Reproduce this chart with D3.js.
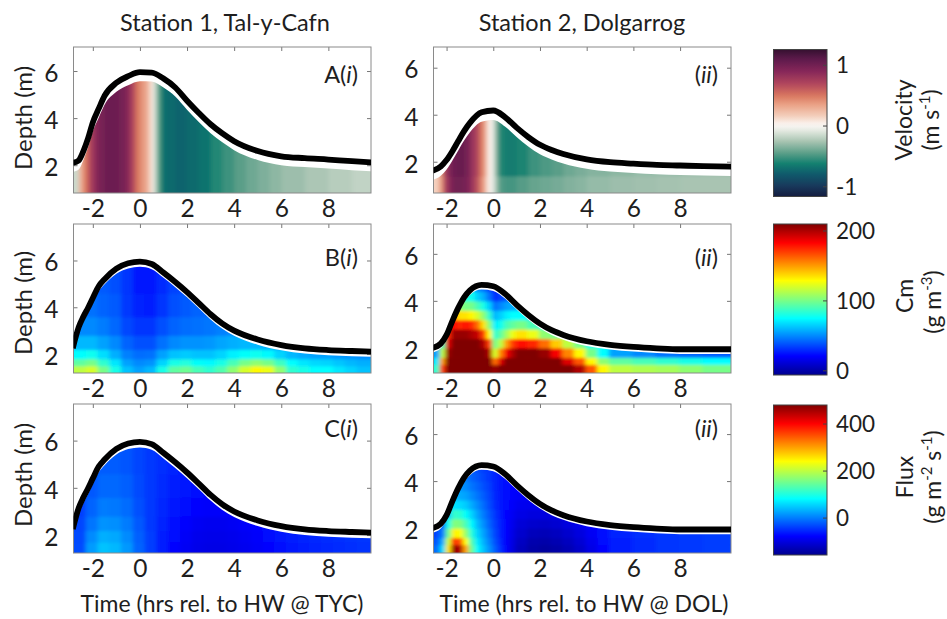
<!DOCTYPE html>
<html>
<head>
<meta charset="utf-8">
<script src="https://cdn.jsdelivr.net/npm/d3@7"></script>
<style>
  body { margin: 0; background: #fff; }
  text { font-family: Lato, "Open Sans", sans-serif; fill: #1e1e1e; }
</style>
</head>
<body>
<svg id="fig" width="947" height="619"></svg>
<script>
const N = null;

// ---- ticks ----
const X_TICKS = [-2, 0, 2, 4, 6, 8];
const Y_TICKS = [2, 4, 6];
const VEL_TICKS = [-1, 0, 1];
const CM_TICKS = [0, 100, 200];
const FLUX_TICKS = [0, 200, 400];

// colour limits (colorbar ranges)
const VEL_DOM = [-1.16, 1.26];
const CM_DOM = [-6, 210];
const FLUX_DOM = [-157, 481];

// ---- water surface (m) ----
const st1Time = [-2.85, -2.6, -2.4, -2.2, -2.0, -1.75, -1.5, -1.0, -0.5, 0, 0.5, 1.0, 1.5, 2.0, 2.5, 3.0, 3.5, 4.0, 5.0, 6.0, 7.0, 8.0, 9.0, 9.85];
const s1ASurf = [2.1, 2.2, 2.6, 3.15, 3.82, 4.4, 4.95, 5.5, 5.78, 5.95, 5.93, 5.68, 5.3, 4.74, 4.22, 3.74, 3.35, 3.02, 2.6, 2.38, 2.3, 2.24, 2.17, 2.12];
const s1BCSurf = [2.25, 3.15, 3.6, 3.98, 4.4, 4.9, 5.2, 5.65, 5.88, 5.95, 5.85, 5.48, 5.08, 4.65, 4.18, 3.7, 3.3, 3.0, 2.62, 2.38, 2.24, 2.17, 2.13, 2.1];

const st2Time = [-2.6, -2.25, -2.0, -1.75, -1.5, -1.25, -1.0, -0.5, 0, 0.5, 1.0, 1.5, 2.0, 2.5, 3.0, 4.0, 5.0, 6.0, 7.0, 8.0, 9.0, 10.25];
const s2ASurf = [1.62, 1.8, 2.07, 2.45, 2.88, 3.3, 3.65, 4.1, 4.18, 3.9, 3.45, 3.05, 2.72, 2.5, 2.33, 2.1, 1.98, 1.92, 1.87, 1.84, 1.81, 1.79];
const s2BCSurf = [2.0, 2.18, 2.55, 3.15, 3.7, 4.15, 4.45, 4.68, 4.62, 4.3, 3.83, 3.4, 3.03, 2.75, 2.55, 2.28, 2.13, 2.04, 1.98, 1.94, 1.94, 1.94];

// ---- velocity (m/s), bins in time (edges) x depth (edges) ----
const vel1Edges = [-2.85, -2.6, -2.4, -2.2, -2.0, -1.8, -1.5, -1.2, -0.9, -0.6, -0.4, -0.2, 0, 0.2, 0.4, 0.55, 0.7, 0.85, 1.0, 1.5, 2.0, 2.5, 3.0, 3.5, 4.0, 4.5, 5.0, 5.5, 6.0, 7.0, 8.0, 9.0, 9.85];
const vel1Depth = [0.82, 7.02];
const vel1 = [
  [-0.15, 0.3, 0.5, 0.7, 0.85, 0.97, 1.03, 1.03, 0.98, 0.88, 0.7, 0.5, 0.4, 0.3, 0.1, -0.12, -0.4, -0.6, -0.72, -0.75, -0.72, -0.68, -0.58, -0.52, -0.45, -0.4, -0.36, -0.32, -0.28, -0.24, -0.21, -0.18]
];

const vel2Edges = [-2.6, -2.35, -2.15, -1.95, -1.75, -1.5, -1.25, -1.0, -0.8, -0.6, -0.45, -0.3, -0.15, 0, 0.15, 0.3, 0.5, 0.75, 1.0, 1.5, 2.0, 2.5, 3.0, 3.5, 4.0, 5.0, 6.0, 7.0, 8.0, 9.0, 10.25];
const vel2Depth = [0.67, 1.4, 6.88];
const vel2 = [
  [0.15, 0.35, 0.7, 0.9, 1.0, 1.0, 0.95, 0.8, 0.65, 0.45, 0.32, 0.08, -0.02, -0.18, -0.4, -0.48, -0.5, -0.5, -0.46, -0.42, -0.4, -0.38, -0.35, -0.33, -0.3, -0.28, -0.27, -0.26, -0.25, -0.25],
  [0.15, 0.4, 0.75, 0.95, 1.03, 1.05, 0.98, 0.82, 0.7, 0.5, 0.38, 0.1, 0.0, -0.22, -0.5, -0.6, -0.64, -0.64, -0.6, -0.52, -0.48, -0.45, -0.4, -0.37, -0.34, -0.32, -0.3, -0.29, -0.28, -0.27]
];

// ---- SSC and flux grids ----
const jet1Edges = [-2.85, -2.3, -1.8, -1.3, -0.8, -0.3, 0.2, 0.7, 1.2, 1.7, 2.2, 2.7, 3.2, 3.7, 4.2, 4.7, 5.2, 5.7, 6.2, 6.7, 7.2, 7.7, 8.2, 8.7, 9.2, 9.85];
const jet2Edges = [-2.6, -2.3, -2.05, -1.8, -1.55, -1.3, -1.05, -0.8, -0.55, -0.3, -0.05, 0.2, 0.45, 0.7, 0.95, 1.45, 1.95, 2.45, 2.95, 3.45, 3.95, 4.45, 4.95, 5.95, 6.95, 7.95, 8.95, 10.25];

const cm1Depth = [1.19, 1.5, 1.8, 2.2, 2.8, 3.6, 4.6, 7.6];
const cm1 = [
  [115, 120, 100, 80, 62, 55, 60, 80, 95, 98, 90, 85, 92, 105, 120, 130, 125, 105, 85, 80, 75, 75, 70, 66, 62],
  [95, 100, 85, 70, 55, 50, 52, 66, 80, 82, 76, 74, 80, 90, 100, 105, 100, 88, 75, 70, 67, 66, 63, 60, 58],
  [75, 78, 68, 58, 48, 44, 45, 55, 62, 64, 62, 62, 66, 72, 76, 78, 74, 66, 60, 57, 55, 55, 53, 52, 50],
  [60, 60, 55, 50, 42, 38, 38, 45, 50, 52, 52, 53, 56, 58, 60, 60, 58, 55, N, N, N, N, N, N, N],
  [50, 50, 47, 43, 36, 32, 32, 38, 42, 44, 45, 46, 48, 50, N, N, N, N, N, N, N, N, N, N, N],
  [N, 45, 42, 40, 33, 28, 27, 32, 38, 40, 42, 43, N, N, N, N, N, N, N, N, N, N, N, N, N],
  [N, N, 40, 38, 32, 26, 25, 30, 35, 38, N, N, N, N, N, N, N, N, N, N, N, N, N, N, N]
];

const cm2Depth = [0.93, 1.3, 1.6, 2.0, 2.4, 2.8, 3.2, 3.6, 4.0, 4.4, 7.3];
const cm2 = [
  [85, 170, 210, 210, 210, 210, 210, 210, 210, 210, 205, 210, 210, 210, 210, 210, 210, 210, 210, 200, 165, 130, 115, 112, 110, 105, 100],
  [70, 150, 210, 210, 210, 210, 210, 210, 210, 210, 160, 190, 210, 210, 210, 210, 210, 210, 190, 165, 130, 105, 95, 90, 85, 80, 75],
  [55, 115, 205, 210, 210, 210, 210, 210, 210, 200, 120, 155, 185, 200, 210, 210, 205, 185, 155, 130, 100, 75, 55, 50, 45, 42, 40],
  [N, 90, 190, 210, 210, 210, 210, 210, 200, 170, 100, 115, 150, 170, 180, 175, 160, 140, 115, 100, 78, N, N, N, N, N, N],
  [N, N, 175, 205, 205, 205, 200, 195, 170, 130, 85, 95, 110, 125, 135, 125, 105, 100, N, N, N, N, N, N, N, N, N],
  [N, N, N, 180, 175, 180, 175, 160, 135, 105, 72, 78, 90, 95, 100, 90, 80, N, N, N, N, N, N, N, N, N, N],
  [N, N, N, 150, 135, 135, 130, 120, 105, 85, 60, 65, 72, 75, 75, 70, N, N, N, N, N, N, N, N, N, N, N],
  [N, N, N, N, 105, 100, 100, 90, 80, 65, 45, 50, 55, 58, 60, N, N, N, N, N, N, N, N, N, N, N, N],
  [N, N, N, N, N, 80, 78, 65, 58, 45, 30, 35, 40, N, N, N, N, N, N, N, N, N, N, N, N, N, N],
  [N, N, N, N, N, N, N, 50, 45, 35, 25, 30, N, N, N, N, N, N, N, N, N, N, N, N, N, N, N]
];

const fx1Depth = [1.24, 1.7, 2.2, 2.8, 3.6, 4.6, 7.6];
const fx1 = [
  [-30, 20, 45, 38, 18, -15, -40, -60, -75, -85, -92, -95, -95, -92, -88, -82, -75, -68, -62, -58, -55, -52, -50, -48, -46],
  [-32, 10, 32, 28, 10, -18, -40, -58, -72, -82, -90, -92, -92, -90, -85, -80, -72, -65, -60, -55, -52, -50, -48, -46, -45],
  [-35, -5, 15, 12, 0, -22, -42, -55, -68, -78, -85, -88, -88, -85, -80, -76, -68, -62, N, N, N, N, N, N, N],
  [-38, -15, 0, -2, -10, -28, -42, -52, -62, -72, -78, -80, -80, -78, N, N, N, N, N, N, N, N, N, N, N],
  [N, -22, -12, -12, -18, -32, -42, -50, -58, -65, -70, -75, N, N, N, N, N, N, N, N, N, N, N, N, N],
  [N, N, -20, -20, -25, -35, -42, -48, -55, -62, N, N, N, N, N, N, N, N, N, N, N, N, N, N, N]
];

const fx2Depth = [0.94, 1.3, 1.6, 2.0, 2.4, 2.8, 3.2, 3.6, 4.0, 4.4, 7.3];
const fx2 = [
  [-10, 60, 260, 470, 450, 300, 150, 80, 45, 15, -20, -50, -80, -100, -125, -140, -145, -140, -130, -115, -95, -75, -60, -50, -45, -42, -40],
  [-25, 30, 210, 370, 350, 240, 130, 70, 35, 5, -28, -55, -80, -98, -120, -135, -138, -132, -122, -108, -90, -72, -58, -50, -45, -42, -40],
  [-35, 0, 150, 250, 240, 175, 105, 55, 25, -5, -35, -58, -78, -95, -112, -125, -128, -122, -112, -100, -85, -68, -55, -48, -45, -42, -40],
  [N, -20, 95, 165, 160, 125, 80, 40, 12, -15, -40, -60, -76, -90, -105, -112, -115, -110, -100, -90, -78, N, N, N, N, N, N],
  [N, N, 50, 115, 110, 85, 55, 25, 0, -22, -45, -62, -74, -85, -95, -100, -100, -98, N, N, N, N, N, N, N, N, N],
  [N, N, N, 65, 60, 50, 30, 10, -10, -30, -50, -64, -72, -80, -88, -90, -92, N, N, N, N, N, N, N, N, N, N],
  [N, N, N, 35, 30, 25, 10, -5, -20, -35, -52, -65, -70, -78, -82, -85, N, N, N, N, N, N, N, N, N, N, N],
  [N, N, N, N, 15, 10, -5, -15, -28, -40, -55, -65, -70, -75, -78, N, N, N, N, N, N, N, N, N, N, N, N],
  [N, N, N, N, N, 0, -15, -25, -35, -45, -55, -65, -70, N, N, N, N, N, N, N, N, N, N, N, N, N, N],
  [N, N, N, N, N, N, N, -30, -40, -45, -55, -65, N, N, N, N, N, N, N, N, N, N, N, N, N, N, N]
];

// ---- colour maps ----
const velStops = [[-1.16, "#141c40"], [-0.98, "#183a5c"], [-0.78, "#0f5c6c"], [-0.62, "#12806f"], [-0.45, "#5a9e88"],
  [-0.25, "#a9c4b2"], [-0.08, "#e3e9e0"], [0.02, "#fbf7f5"], [0.16, "#f4d0bd"], [0.35, "#eaa287"], [0.5, "#d9775f"],
  [0.7, "#b0455d"], [0.9, "#862759"], [1.1, "#5e1a4c"], [1.26, "#34102f"]];
const velColor = d3.scaleLinear().domain(velStops.map(s => s[0])).range(velStops.map(s => s[1])).clamp(true);

const jet = d3.scaleLinear()
  .domain([0, 0.125, 0.375, 0.625, 0.875, 1])
  .range(["#00008f", "#0000ff", "#00ffff", "#ffff00", "#ff0000", "#800000"])
  .clamp(true);
const cmNorm = d3.scaleLinear().domain(CM_DOM).range([0, 1]);
const fluxNorm = d3.scaleLinear().domain(FLUX_DOM).range([0, 1]);
const cmColor = v => jet(cmNorm(v));
const fluxColor = v => jet(fluxNorm(v));

// ---- layout ----
const ROWS = {
  A: {y0: 47, y1: 193, tagY: 83, labY: 118},
  B: {y0: 224, y1: 373, tagY: 266, labY: 303},
  C: {y0: 404, y1: 553, tagY: 437, labY: 475}
};
const COLS = {
  1: {x0: 73.5, x1: 371, tDom: [-2.82, 9.81], tagX: 358},
  2: {x0: 433.5, x1: 731, tDom: [-2.56, 10.18], tagX: 718}
};

const panels = [
  {id: "A1", row: "A", col: 1, dDom: [0.82, 7.02], surfT: st1Time, surf: s1ASurf, gap: 0.38, tE: vel1Edges, dE: vel1Depth, vals: vel1, color: velColor, tag: ["A(", "i", ")"]},
  {id: "A2", row: "A", col: 2, dDom: [0.67, 6.88], surfT: st2Time, surf: s2ASurf, gap: 0.4, tE: vel2Edges, dE: vel2Depth, vals: vel2, color: velColor, tag: ["(", "ii", ")"]},
  {id: "B1", row: "B", col: 1, dDom: [1.19, 7.56], surfT: st1Time, surf: s1BCSurf, gap: 0.22, tE: jet1Edges, dE: cm1Depth, vals: cm1, color: cmColor, tag: ["B(", "i", ")"]},
  {id: "B2", row: "B", col: 2, dDom: [0.93, 7.27], surfT: st2Time, surf: s2BCSurf, gap: 0.2, tE: jet2Edges, dE: cm2Depth, vals: cm2, color: cmColor, tag: ["(", "ii", ")"]},
  {id: "C1", row: "C", col: 1, dDom: [1.24, 7.55], surfT: st1Time, surf: s1BCSurf, gap: 0.24, tE: jet1Edges, dE: fx1Depth, vals: fx1, color: fluxColor, tag: ["C(", "i", ")"]},
  {id: "C2", row: "C", col: 2, dDom: [0.94, 7.28], surfT: st2Time, surf: s2BCSurf, gap: 0.2, tE: jet2Edges, dE: fx2Depth, vals: fx2, color: fluxColor, tag: ["(", "ii", ")"]}
];

const svg = d3.select("#fig");
const defs = svg.append("defs");

// soften the cell grid a little, then make it opaque again
const soft = defs.append("filter").attr("id", "soft");
soft.append("feGaussianBlur").attr("stdDeviation", "2 1.6").attr("result", "b");
soft.append("feComponentTransfer").attr("in", "b")
  .append("feFuncA").attr("type", "table").attr("tableValues", "0 1 1 1 1 1 1 1 1 1 1");

function drawPanel(p) {
  const col = COLS[p.col], row = ROWS[p.row];
  const x = d3.scaleLinear().domain(col.tDom).range([col.x0, col.x1]);
  const y = d3.scaleLinear().domain(p.dDom).range([row.y1, row.y0]);
  const pts = p.surfT.map((t, i) => [t, p.surf[i]]);

  // inward ticks on all sides (under the data)
  const tickG = svg.append("g").attr("color", "#777");
  tickG.append("g").attr("transform", `translate(0,${row.y0})`)
    .call(d3.axisTop(x).tickValues(X_TICKS).tickSizeInner(-4).tickSizeOuter(0).tickFormat(""));
  tickG.append("g").attr("transform", `translate(${col.x1},0)`)
    .call(d3.axisRight(y).tickValues(Y_TICKS).tickSizeInner(-4).tickSizeOuter(0).tickFormat(""));
  tickG.append("g").attr("transform", `translate(0,${row.y1})`)
    .call(d3.axisBottom(x).tickValues(X_TICKS).tickSizeInner(-4).tickSizeOuter(0).tickPadding(7).tickFormat(d => String(d)));
  const gy = tickG.append("g").attr("transform", `translate(${col.x0},0)`)
    .call(d3.axisLeft(y).tickValues(Y_TICKS).tickSizeInner(-4).tickSizeOuter(0).tickPadding(15).tickFormat(d => String(d)));
  tickG.selectAll(".domain").remove();
  tickG.selectAll("text").attr("font-size", 24.5).attr("font-family", "Lato, sans-serif").attr("fill", "#1e1e1e");
  gy.selectAll("text").attr("dy", "0.42em");

  // clip paths
  const frameId = "frame-" + p.id, wetId = "wet-" + p.id;
  defs.append("clipPath").attr("id", frameId).append("rect")
    .attr("x", col.x0).attr("y", row.y0).attr("width", col.x1 - col.x0).attr("height", row.y1 - row.y0);
  const wet = d3.area().curve(d3.curveMonotoneX)
    .x(d => x(d[0])).y0(row.y1 + 3).y1(d => y(d[1] - p.gap));
  defs.append("clipPath").attr("id", wetId).append("path").attr("d", wet(pts));

  const cells = [];
  p.vals.forEach((r, i) => r.forEach((v, j) => { if (v !== null) cells.push({i, j, v}); }));

  svg.append("g").attr("clip-path", `url(#${frameId})`)
    .append("g").attr("clip-path", `url(#${wetId})`)
    .append("g").attr("filter", "url(#soft)")
    .selectAll("rect").data(cells).join("rect")
      .attr("x", d => x(p.tE[d.j]))
      .attr("width", d => x(p.tE[d.j + 1]) - x(p.tE[d.j]) + 0.6)
      .attr("y", d => y(p.dE[d.i + 1]))
      .attr("height", d => y(p.dE[d.i]) - y(p.dE[d.i + 1]) + 0.6)
      .attr("fill", d => p.color(d.v));

  // axes box
  svg.append("rect")
    .attr("x", col.x0).attr("y", row.y0)
    .attr("width", col.x1 - col.x0).attr("height", row.y1 - row.y0)
    .attr("fill", "none").attr("stroke", "#8a8a8a").attr("stroke-width", 1);

  // water surface
  svg.append("g").attr("clip-path", `url(#${frameId})`)
    .append("path")
    .attr("d", d3.line().curve(d3.curveMonotoneX).x(d => x(d[0])).y(d => y(d[1]))(pts))
    .attr("fill", "none").attr("stroke", "#000").attr("stroke-width", 5.8).attr("stroke-linejoin", "round");

  // panel tag
  const tag = svg.append("text").attr("x", col.tagX).attr("y", row.tagY)
    .attr("text-anchor", "end").attr("font-size", 23.5);
  tag.append("tspan").text(p.tag[0]);
  tag.append("tspan").attr("font-style", "italic").text(p.tag[1]);
  tag.append("tspan").text(p.tag[2]);

  if (p.col === 1) {
    svg.append("text")
      .attr("transform", `translate(23.5,${row.labY}) rotate(-90)`)
      .attr("text-anchor", "middle").attr("dy", "0.35em").attr("font-size", 24)
      .text("Depth (m)");
  }
}

panels.forEach(drawPanel);

// ---- colorbars ----
const bars = [
  {id: "vel", dom: VEL_DOM, ticks: VEL_TICKS, color: velColor, y0: 49.5, y1: 196.5,
   title: "Velocity", unit: [["(m s", ""], ["-1", "sup"], [")", ""]], tx: 904, ux: 931, ty: 120, uy: 120},
  {id: "cm", dom: CM_DOM, ticks: CM_TICKS, color: cmColor, y0: 224, y1: 375,
   title: "Cm", unit: [["(g m", ""], ["-3", "sup"], [")", ""]], tx: 905, ux: 933, ty: 296, uy: 302},
  {id: "flux", dom: FLUX_DOM, ticks: FLUX_TICKS, color: fluxColor, y0: 405, y1: 555,
   title: "Flux", unit: [["(g m", ""], ["-2", "sup"], [" s", ""], ["-1", "sup"], [")", ""]], tx: 905, ux: 933, ty: 477, uy: 477}
];
const BAR_X0 = 773.5, BAR_X1 = 827;

bars.forEach(b => {
  const y = d3.scaleLinear().domain(b.dom).range([b.y1, b.y0]);
  const grad = defs.append("linearGradient").attr("id", "grad-" + b.id)
    .attr("x1", 0).attr("y1", 1).attr("x2", 0).attr("y2", 0);
  d3.range(0, 41).forEach(k => {
    const f = k / 40;
    grad.append("stop").attr("offset", f).attr("stop-color", b.color(b.dom[0] + f * (b.dom[1] - b.dom[0])));
  });
  svg.append("rect").attr("x", BAR_X0).attr("y", b.y0)
    .attr("width", BAR_X1 - BAR_X0).attr("height", b.y1 - b.y0)
    .attr("fill", `url(#grad-${b.id})`).attr("stroke", "#444").attr("stroke-width", 1);

  svg.append("g").selectAll("line").data(b.ticks).join("line")
    .attr("x1", BAR_X1 - 4).attr("x2", BAR_X1)
    .attr("y1", d => y(d)).attr("y2", d => y(d))
    .attr("stroke", "#444");
  svg.append("g").selectAll("text").data(b.ticks).join("text")
    .attr("x", 836).attr("y", d => y(d)).attr("dy", "0.36em")
    .attr("font-size", 22.5).text(d => String(d));

  svg.append("text")
    .attr("transform", `translate(${b.tx},${b.ty}) rotate(-90)`)
    .attr("text-anchor", "middle").attr("dy", "0.35em").attr("font-size", 23)
    .text(b.title);
  const u = svg.append("text")
    .attr("transform", `translate(${b.ux},${b.uy}) rotate(-90)`)
    .attr("text-anchor", "middle").attr("dy", "0.35em").attr("font-size", 23);
  u.selectAll("tspan").data(b.unit).join("tspan")
    .attr("font-size", d => d[1] === "sup" ? 15 : null)
    .attr("baseline-shift", d => d[1] === "sup" ? "super" : null)
    .text(d => d[0]);
});

// ---- titles and time labels ----
svg.append("text").attr("x", 225).attr("y", 31).attr("text-anchor", "middle").attr("font-size", 23.5)
  .text("Station 1, Tal-y-Cafn");
svg.append("text").attr("x", 582).attr("y", 31).attr("text-anchor", "middle").attr("font-size", 23.5)
  .text("Station 2, Dolgarrog");
svg.append("text").attr("x", 222).attr("y", 612).attr("text-anchor", "middle").attr("font-size", 23)
  .text("Time (hrs rel. to HW @ TYC)");
svg.append("text").attr("x", 584).attr("y", 612).attr("text-anchor", "middle").attr("font-size", 23)
  .text("Time (hrs rel. to HW @ DOL)");
</script>
</body>
</html>
